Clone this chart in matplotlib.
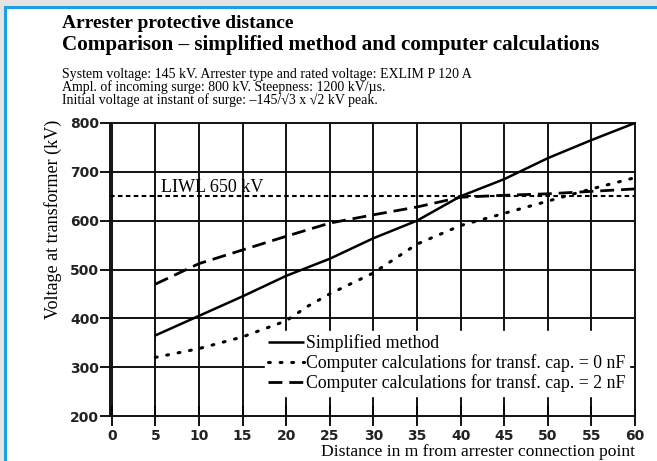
import matplotlib
matplotlib.use("Agg")
import matplotlib.pyplot as plt
import matplotlib.patches as patches

# distance from arrester connection point (m)
dist = [5, 10, 15, 20, 25, 30, 35, 40, 45, 50, 55, 60]
simplified = [365, 405, 445, 487, 522, 564, 600, 650, 685, 728, 765, 800]

dist_0nf = [5, 10, 15, 20, 22.5, 25, 30, 35, 40, 45, 50, 55, 60]
calc_0nf = [320, 338, 362, 395, 425, 450, 493, 552, 590, 615, 640, 665, 688]

calc_2nf = [470, 512, 540, 568, 595, 612, 628, 648, 652, 655, 660, 665]

liwl = 650
xticks = list(range(0, 65, 5))
yticks = [200, 300, 400, 500, 600, 700, 800]

title1 = "Arrester protective distance"
title2 = "Comparison \u2013 simplified method and computer calculations"
info = ["System voltage: 145 kV. Arrester type and rated voltage: EXLIM P 120 A",
        "Ampl. of incoming surge: 800 kV. Steepness: 1200 kV/\u00b5s.",
        "Initial voltage at instant of surge: \u2013145/\u221a3 x \u221a2 kV peak."]

SERIF = ["Liberation Serif", "DejaVu Serif"]
W, H = 657, 461

fig = plt.figure(figsize=(W / 100, H / 100), dpi=100)
fig.patch.set_facecolor("white")

# frame of the screenshot: grey strip + blue rule top and left
fig.patches.append(patches.Rectangle((0, 1 - 7 / H), 1, 7 / H, transform=fig.transFigure,
                                     facecolor="#e3e3e3", edgecolor="none"))
fig.patches.append(patches.Rectangle((0, 0), 4 / W, 1, transform=fig.transFigure,
                                     facecolor="#e3e3e3", edgecolor="none"))
fig.patches.append(patches.Rectangle((4 / W, 1 - 9 / H), 1, 2.5 / H, transform=fig.transFigure,
                                     facecolor="#1ba1e2", edgecolor="none"))
fig.patches.append(patches.Rectangle((4 / W, 0), 2.5 / W, 1 - 7 / H, transform=fig.transFigure,
                                     facecolor="#1ba1e2", edgecolor="none"))

ax = fig.add_axes([110 / W, (H - 416) / H, 525 / W, 293 / H])
ax.set_xlim(-0.2, 60)
ax.set_ylim(200, 800)

# grid
for x in xticks[:-1]:
    ax.axvline(x, color="#111111", lw=1.4, zorder=1)
for y in yticks[1:-1]:
    ax.axhline(y, color="#111111", lw=1.4, zorder=1)

ax.plot(dist, simplified, color="black", lw=1.8, solid_capstyle="butt", zorder=3,
        label="Simplified method")
ax.plot(dist_0nf, calc_0nf, color="black", lw=2.2, linestyle=(0, (0.6, 3.2)),
        dash_capstyle="round", zorder=3,
        label="Computer calculations for transf. cap. = 0 nF")
ax.plot(dist, calc_2nf, color="black", lw=2.0, linestyle=(0, (5, 2.5)), zorder=3,
        label="Computer calculations for transf. cap. = 2 nF")
ax.axhline(liwl, color="black", lw=1.5, linestyle=(0, (2.2, 1.6)), zorder=2)
ax.text(5.6, 659, "LIWL 650 kV", family=SERIF, fontsize=13, ha="left", va="baseline", zorder=4)

for s in ax.spines.values():
    s.set_linewidth(1.4)
    s.set_color("#111111")

ax.set_xticks(xticks)
ax.set_yticks(yticks)
ax.tick_params(axis="x", direction="inout", length=14, width=1.3, labelsize=10, pad=2)
ax.tick_params(axis="y", direction="out", length=7, width=1.3, labelsize=10, pad=1)
for lab in ax.get_xticklabels() + ax.get_yticklabels():
    lab.set_fontweight("bold")
    lab.set_color("#222222")

leg = ax.legend(loc="upper left", bbox_to_anchor=(0.295, 0.29), frameon=True,
                fancybox=False, framealpha=1, facecolor="white", edgecolor="white",
                handlelength=2.0, handletextpad=0.12, labelspacing=0.12, borderpad=0.2,
                borderaxespad=0, prop={"family": SERIF, "size": 12.8})
leg.set_zorder(5)

fig.text(62 / W, 1 - 28 / H, title1, family=SERIF, weight="bold", fontsize=14, va="baseline")
fig.text(62 / W, 1 - 50 / H, title2, family=SERIF, weight="bold", fontsize=15.2, va="baseline")
for i, line in enumerate(info):
    fig.text(62 / W, 1 - (78 + 13 * i) / H, line, family=SERIF, fontsize=10, va="baseline")

fig.text(53 / W, 1 - 219 / H, "Voltage at transformer (kV)", family=SERIF, fontsize=13,
         rotation=90, ha="center", va="center")
fig.text(635 / W, 1 - 456 / H, "Distance in m from arrester connection point", family=SERIF,
         fontsize=12.6, ha="right", va="baseline")

fig.savefig("out.png", dpi=100)
